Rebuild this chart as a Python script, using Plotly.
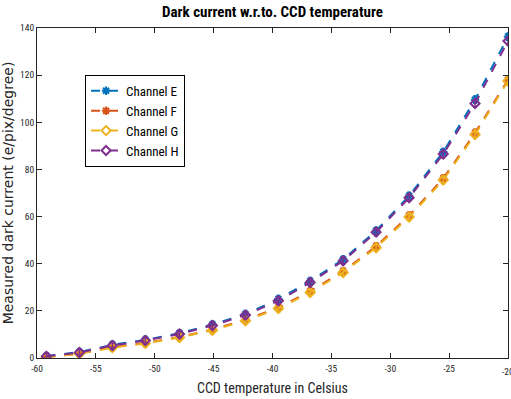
import plotly.graph_objects as go

temps = [-59.2, -56.4, -53.6, -50.8, -47.9, -45.1, -42.3, -39.5, -36.8, -34.0, -31.2, -28.4, -25.5, -22.8, -20.0]
chan_e = [0.8, 2.5, 5.6, 7.7, 10.5, 14.2, 18.6, 25.0, 32.6, 41.8, 54.0, 68.8, 87.4, 109.6, 136.3]
chan_f = [0.4, 1.9, 4.6, 6.4, 8.9, 12.1, 16.2, 21.4, 28.3, 36.8, 47.4, 60.4, 76.2, 95.5, 118.0]
chan_g = [0.3, 1.8, 4.4, 6.2, 8.7, 11.8, 15.8, 21.0, 27.8, 36.3, 46.8, 59.8, 75.5, 94.8, 117.5]
chan_h = [0.7, 2.3, 5.3, 7.4, 10.2, 13.8, 18.2, 24.3, 32.0, 41.2, 53.4, 68.0, 86.5, 108.0, 134.5]
err = 1.5

x_ticks = [-60, -55, -50, -45, -40, -35, -30, -25, -20]
x_tick_labels = ["-60", "-55", "-50", "-45", "-40", "-35", "-30", "-25", "-20"]
y_ticks = [0, 20, 40, 60, 80, 100, 120, 140]

series = [
    ("Channel E", chan_e, "#0072BD", "asterisk-open"),
    ("Channel F", chan_f, "#D95319", "asterisk-open"),
    ("Channel G", chan_g, "#EDB120", "diamond-open"),
    ("Channel H", chan_h, "#7E2F8E", "diamond-open"),
]

narrow = "Roboto Condensed, DejaVu Sans Condensed, Liberation Sans, sans-serif"
tick_font = dict(family=narrow, size=9.5, color="#262626")

fig = go.Figure()
for name, ys, col, sym in series:
    fig.add_trace(go.Scatter(
        x=temps, y=ys, name=name, mode="lines+markers",
        line=dict(color=col, width=2, dash="dash"),
        marker=dict(color=col, symbol=sym, size=7, line=dict(color=col, width=2)),
        error_y=dict(type="constant", value=err, color=col, thickness=1.5, width=2),
    ))

# last x tick label sits on the page edge (partly cut off, as in the original)
fig.add_annotation(x=x_ticks[-1], y=0, xref="x", yref="paper", yanchor="top", yshift=-6,
                   text=x_tick_labels[-1], showarrow=False, font=tick_font)

fig.update_layout(
    width=511, height=399,
    margin=dict(l=37, r=3, t=28, b=41, autoexpand=False),
    paper_bgcolor="white", plot_bgcolor="white",
    title=dict(text="<b>Dark current w.r.to. CCD temperature</b>", x=0.5, xref="paper",
               xanchor="center", y=0.97, yanchor="middle",
               font=dict(family=narrow, size=15, color="black")),
    showlegend=True,
    legend=dict(x=0.102, y=0.858, xanchor="left", yanchor="top",
                bgcolor="white", bordercolor="black", borderwidth=1,
                font=dict(family=narrow, size=13, color="black"),
                tracegroupgap=0, itemwidth=30),
    font=dict(family=narrow, color="#262626"),
)
fig.update_xaxes(range=[-60, -20], tickvals=x_ticks, ticktext=x_tick_labels,
                 ticks="inside", ticklen=5, tickcolor="#262626", mirror="ticks", automargin=False,
                 showline=True, linecolor="#262626", linewidth=1, showgrid=False, zeroline=False,
                 tickfont=tick_font, ticklabelstandoff=2,
                 title=dict(text="CCD temperature in Celsius", standoff=9,
                            font=dict(family=narrow, size=14, color="#262626")))
fig.update_yaxes(range=[0, 140], tickvals=y_ticks,
                 ticks="inside", ticklen=5, tickcolor="#262626", mirror="ticks", automargin=False,
                 showline=True, linecolor="#262626", linewidth=1, showgrid=False, zeroline=False,
                 tickfont=tick_font,
                 title=dict(text="Measured dark current (e/pix/degree)", standoff=9,
                            font=dict(family="DejaVu Sans, sans-serif", size=14, color="#262626")))

fig.write_html("out.html", config={"displayModeBar": False},
               post_script="document.body.style.margin='0';")
